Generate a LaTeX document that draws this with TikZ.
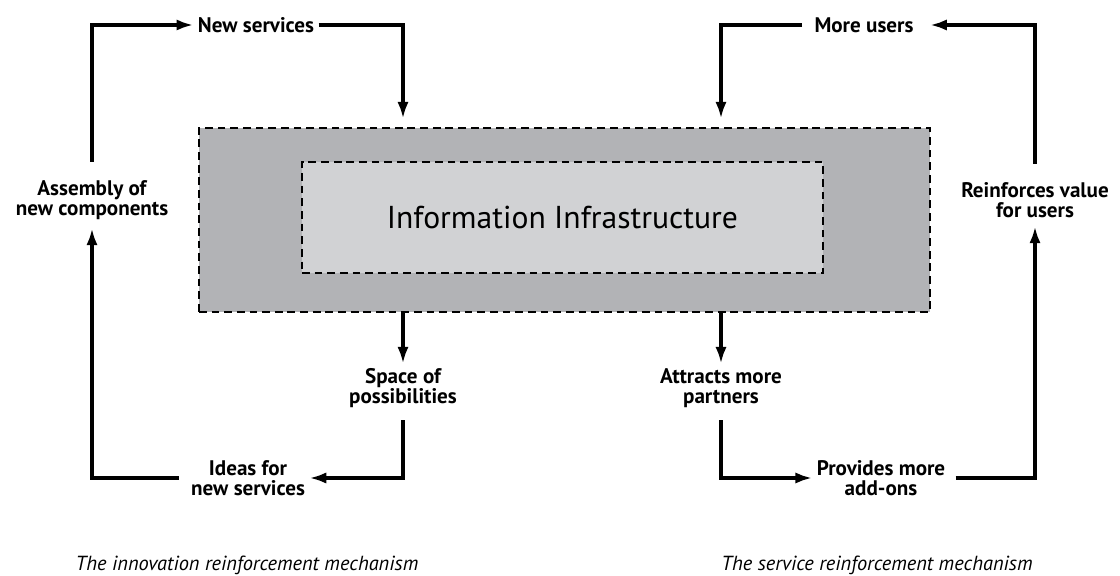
\documentclass[tikz,border=0pt]{standalone}
\usepackage{xcolor}
\usepackage{fontspec}
\setmainfont{PT Sans}
\usetikzlibrary{arrows.meta}

\definecolor{outergray}{HTML}{B2B3B6}
\definecolor{innergray}{HTML}{D1D2D4}

\begin{document}
\begin{tikzpicture}[x=0.025cm, y=-0.025cm,
    every node/.style={font=\fontsize{15}{14.5}\selectfont\bfseries, align=center, inner sep=3pt},
    flow/.style={line width=2.8pt, -{Latex[length=12pt,width=8pt]}},
    dashbox/.style={draw, line width=1.8pt, dash pattern=on 5.5pt off 3.5pt}]
        \useasboundingbox (0,0) rectangle (1120,576);

        % the two boxes in the middle
        \node[dashbox, fill=outergray, minimum width=18.275cm, minimum height=4.6cm] (infra) at (564.5,220) {};
        \node[dashbox, fill=innergray, minimum width=13.025cm, minimum height=2.775cm,
              font=\fontsize{22.5}{26}\selectfont] (core) at (562.5,217.5) {Information Infrastructure};

        % left loop
        \node (newsrv) at (256,25) {New services};
        \node (assembly) at (92,200) {Assembly of\\new components};
        \node (space) at (403,388) {Space of\\possibilities};
        \node (ideas) at (248,478) {Ideas for\\new services};

        % right loop
        \node (moreusr) at (864,25) {More users};
        \node (reinforce) at (1035,200) {Reinforces value\\for users};
        \node (attracts) at (721,388) {Attracts more\\partners};
        \node (addons) at (881,478) {Provides more\\add-ons};

        \draw[flow] ([yshift=3.5mm]assembly.north) |- (newsrv.west);
        \draw[flow, shorten >=2mm] (newsrv.east) -| (infra.north -| space.north);
        \draw[flow] (infra.south -| space.north) -- (space.north);
        \draw[flow] ([yshift=-2mm]space.south) |- (ideas.east);
        \draw[flow] ([xshift=-2mm]ideas.west) -| ([yshift=-1mm]assembly.south);

        \draw[flow, shorten >=3mm] ([yshift=3.5mm]reinforce.north) |- (moreusr.east);
        \draw[flow, shorten >=2mm] ([xshift=-2mm]moreusr.west) -| (infra.north -| attracts.north);
        \draw[flow] (infra.south -| attracts.north) -- (attracts.north);
        \draw[flow] ([yshift=-2mm]attracts.south) |- (addons.west);
        \draw[flow] ([xshift=1.5mm]addons.east) -| ([yshift=-1mm]reinforce.south);

        % captions
        \node[font=\fontsize{14.5}{16}\selectfont\itshape] (capl) at (247,565) {The innovation reinforcement mechanism};
        \node[font=\fontsize{14.5}{16}\selectfont\itshape] (capr) at (877,565) {The service reinforcement mechanism};
    \end{tikzpicture}
\end{document}
